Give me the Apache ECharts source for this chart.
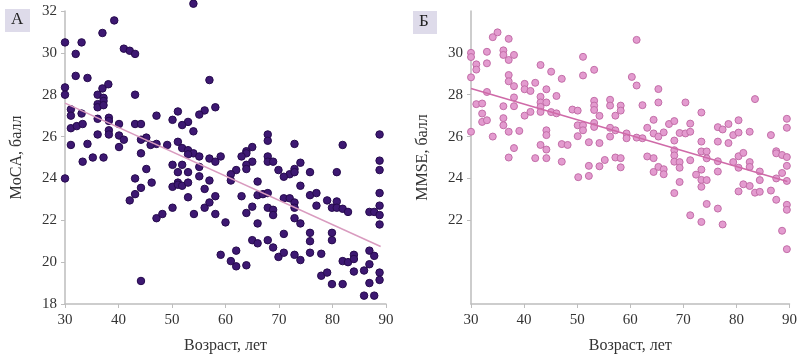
<!DOCTYPE html>
<html><head><meta charset="utf-8">
<script src="https://cdn.jsdelivr.net/npm/echarts@6/dist/echarts.min.js"></script>
<style>html,body{margin:0;padding:0;background:#fff}#c{width:800px;height:359px}</style>
</head><body><div id="c"></div>
<script>
const xTicks = [30, 40, 50, 60, 70, 80, 90];
const yTicksA = [18, 20, 22, 24, 26, 28, 30, 32];
const yTicksB = [22, 24, 26, 28, 30];
const panelLetters = ['А', 'Б'];
const yNames = ['MoCA, балл', 'MMSE, балл'];
const xName = 'Возраст, лет';

const mocaPoints = [
[54,32.35],[30,30.5],[39.2,31.55],[37,30.95],[33.1,30.5],[32,29.95],[41,30.2],[42.1,30.1],[43.1,29.95],
[32,28.9],[34.2,28.8],[30,28.35],[30,28.0],[36.1,28.0],[37,28.3],[38.1,28.5],[43.1,28.0],[57,28.7],
[37.2,27.85],[37.2,27.7],[36.1,27.55],[36.1,27.4],[37.2,27.5],[56.1,27.25],[58.1,27.4],[51.1,27.2],[55.1,27.05],[47.1,27.0],
[31.1,27.3],[31.1,27.0],[33.1,27.1],[36.1,26.85],[38.2,26.9],[38.2,26.75],[50.1,26.8],[53,26.7],[51.9,26.55],
[31.1,26.4],[32.2,26.5],[33.3,26.6],[40.1,26.6],[43.1,26.6],[44.2,26.6],[38.2,26.3],[38.2,26.1],[54,26.25],[36.1,26.1],[40.1,26.05],[45.2,25.95],[41,25.85],[44.2,25.85],
[31.1,25.6],[34.2,25.65],[40.1,25.5],[47.1,25.65],[46,25.6],[49.1,25.6],[51.1,25.75],[51.9,25.45],[53,25.35],[44.2,25.2],[54,25.2],[53,25.15],[55.1,25.05],[59.1,25.05],
[35.2,25.0],[37.2,25.0],[33.3,24.8],[57,24.95],[58.1,24.8],[50.1,24.65],[51.9,24.65],[55.1,24.55],[45.2,24.45],[51.1,24.3],[53,24.3],
[67.9,26.1],[67.9,25.8],[72.9,25.65],[81.9,25.6],[88.8,26.1],[65,25.5],[63.9,25.3],[63.9,25.2],[63,25.05],[67.9,25.05],[67.9,24.8],[68.9,24.8],[65,24.8],[63.9,24.65],[63.9,24.45],[74,24.75],[72.9,24.45],[72,24.2],[72.9,24.3],[69.9,24.4],[70.9,24.08],[75.8,24.3],[80.8,24.3],[88.8,24.85],[88.8,24.4],[62,24.4],[61,24.2],
[30,24.0],[43.1,24.0],[42.1,22.95],[43.1,23.25],[44.2,23.55],[46.2,23.8],[47.1,22.1],[48.2,22.3],[50.1,23.6],[50.1,22.6],[51.1,23.8],[51.1,23.7],[51.9,23.65],[53,23.8],[53,23.1],[54.1,22.3],[55.1,24.1],[56.1,23.5],[56.1,22.6],[57,23.9],[57,22.85],[58.1,23.15],[58.1,22.3],[60,21.9],[59.1,20.35],[61,23.9],[61,20.05],[62,20.55],[62,19.8],[63,23.15],[63.9,22.35],[63.9,19.85],[65,22.65],[65,21.05],[66,23.85],[66,23.2],[66,21.85],[66,20.9],[67,23.25],[67.9,23.3],[67.9,22.6],[67.9,21.05],[68.9,22.5],[68.9,22.25],[68.9,20.7],[69.9,20.25],[70.9,23.05],[70.9,21.35],[70.9,20.45],[72,23.05],[72.9,22.85],[72.9,22.6],[72.9,22.1],[72.9,20.35],[74,23.65],[74,21.85],[74,20.1],[75.8,23.2],[75.8,21.4],[75.8,21.0],[75.8,20.45],[77,23.3],[77,22.7],[77.9,20.4],[77.9,19.35],[79,22.95],[79,19.5],[79.9,22.6],[79.9,21.4],[79.9,21.05],[79.9,18.95],[80.8,22.9],[80.8,22.6],[81.9,22.55],[81.9,20.05],[81.9,18.95],[82.9,20.0],[82.9,22.4],[84,20.35],[84,20.15],[84,19.55],[85.9,19.6],[85.9,18.4],[86.9,22.4],[86.9,20.55],[86.9,19.9],[86.9,19.0],[87.8,22.4],[87.8,20.3],[87.8,18.4],[88.8,23.3],[88.8,22.7],[88.8,22.25],[88.8,21.8],[88.8,19.5],[88.8,19.15],[44.2,19.1]
];

const mmsePoints = [
[30,30.0],[30,29.8],[30,28.83],[30,26.23],
[31,29.45],[31,29.2],[31,27.55],
[32.1,27.58],[32.1,27.1],[32.1,26.7],
[33,30.05],[33,29.5],[33,28.13],[33,26.78],
[34.1,30.75],[34.1,26.0],[35,30.98],
[36.1,30.12],[36.1,29.9],[36.1,27.45],[36.1,26.88],[36.1,26.54],
[37.1,30.67],[37.1,29.66],[37.1,28.94],[37.1,28.64],[37.1,26.23],[37.1,25.0],
[38.1,29.9],[38.1,28.41],[38.1,27.87],[38.1,27.45],[38.1,25.45],
[39.1,26.27],
[40.1,28.52],[40.1,28.26],[40.1,27.0],
[41.2,28.18],[41.2,27.18],
[42.1,28.57],[42.1,24.97],
[43.1,29.42],[43.1,27.9],[43.1,27.63],[43.1,27.42],[43.1,27.18],[43.1,25.6],
[44.2,28.26],[44.2,27.63],[44.2,26.3],[44.2,26.07],[44.2,25.38],[44.2,24.97],
[45.1,29.1],[45.1,27.17],
[46.1,27.94],[46.1,27.11],
[47.1,28.76],[47.1,25.64],[47.1,24.8],
[48.2,25.6],[49.1,27.29],
[50.1,27.24],[50.1,26.54],[50.1,26.02],[50.2,24.06],
[51.1,29.81],[51.1,28.92],[51.1,26.54],[51.1,26.3],
[52.2,25.73],[52.2,24.6],[52.2,24.12],
[53.2,29.19],[53.2,27.71],[53.2,27.48],[53.2,27.27],[53.2,26.65],[53.2,26.46],
[54.2,26.99],[54.2,25.69],[54.2,24.58],
[55.2,24.88],
[56.2,27.76],[56.2,27.48],[56.2,26.42],[56.2,26.0],
[57.2,27.0],[57.2,26.3],[57.2,25.0],
[58.2,27.48],[58.2,27.24],[58.2,24.97],[58.2,24.53],
[59.3,26.15],[59.3,25.92],
[60.3,28.85],
[61.2,30.62],[61.2,28.44],[61.2,25.95],
[62.3,27.5],[62.3,25.92],
[63.2,26.42],[63.2,25.05],
[64.4,26.8],[64.4,26.15],[64.4,24.97],[64.4,24.31],
[65.3,28.27],[65.3,27.63],[65.3,26.0],[65.3,24.55],
[66.3,26.2],[66.3,24.44],[66.3,24.2],
[67.3,26.6],
[68.3,26.74],[68.3,25.81],[68.3,25.35],[68.3,25.1],[68.3,24.8],[68.3,23.3],
[69.3,26.17],[69.3,24.78],[69.3,24.51],[69.3,23.83],
[70.4,27.63],[70.4,26.15],
[71.3,26.62],[71.3,26.23],[71.3,24.87],[71.3,22.24],
[72.4,24.18],
[73.4,27.15],[73.4,25.76],[73.4,25.29],[73.4,24.42],[73.4,23.93],[73.4,23.6],[73.4,21.92],
[74.4,25.29],[74.4,24.96],[74.4,23.92],[74.4,22.78],
[76.5,26.45],[76.5,25.76],[76.5,24.82],[76.5,24.33],[76.5,22.56],
[77.4,26.34],[77.4,21.8],
[78.5,26.6],[78.5,25.69],
[79.4,26.07],[79.4,24.78],
[80.4,26.78],[80.4,26.19],[80.4,25.06],[80.4,24.51],[80.4,23.38],
[81.3,25.22],[81.3,23.72],
[82.5,26.23],[82.5,24.78],[82.5,24.55],[82.5,23.64],
[83.5,27.79],[83.5,23.32],
[84.4,24.33],[84.4,23.92],[84.4,23.36],
[86.5,26.07],[86.5,23.42],
[87.5,25.3],[87.5,25.2],[87.5,24.0],[87.5,22.98],
[88.6,25.12],[88.6,24.26],[88.6,21.5],
[89.5,26.85],[89.5,26.42],[89.5,25.02],[89.5,24.6],[89.5,23.88],[89.5,22.74],[89.5,22.5],[89.5,20.62]
];

const mocaTrend = [[30, 27.6], [89, 20.75]];
const mmseTrend = [[30, 28.3], [89.6, 23.85]];

const FONT = '"Liberation Serif", "DejaVu Serif", serif';
const axisGray = '#bdbdbd';

function xAxisCfg(idx) {
  return {
    type: 'value', gridIndex: idx, min: 30, max: 90, interval: 10,
    name: xName, nameLocation: 'middle', nameGap: 34,
    nameTextStyle: { fontFamily: FONT, fontSize: 16, color: '#333' },
    axisLine: { show: true, lineStyle: { color: axisGray, width: 1.5 } },
    axisTick: { show: true, length: 4, lineStyle: { color: axisGray }, customValues: xTicks },
    axisLabel: { fontFamily: FONT, fontSize: 15, color: '#333', margin: 9, customValues: xTicks },
    splitLine: { show: false }
  };
}
function yAxisCfg(idx, labels) {
  return {
    type: 'value', gridIndex: idx, min: 18, max: 32, interval: 2,
    name: yNames[idx], nameLocation: 'middle', nameGap: 40, nameRotate: 90,
    nameTextStyle: { fontFamily: FONT, fontSize: 16, color: '#333' },
    axisLine: { show: true, lineStyle: { color: axisGray, width: 1.5 } },
    axisTick: { show: true, length: 4, lineStyle: { color: axisGray }, customValues: labels },
    axisLabel: { fontFamily: FONT, fontSize: 15, color: '#333', margin: 8, customValues: labels },
    splitLine: { show: false }
  };
}

const chart = echarts.init(document.getElementById('c'), null, { renderer: 'canvas' });
chart.setOption({
  animation: false,
  backgroundColor: '#fff',
  grid: [
    { left: 65, top: 11, width: 321, height: 299 },
    { left: 471, top: 11, width: 321, height: 299 }
  ],
  xAxis: [xAxisCfg(0), xAxisCfg(1)],
  yAxis: [yAxisCfg(0, yTicksA), yAxisCfg(1, yTicksB)],
  graphic: [
    { type: 'rect', left: 5, top: 9, shape: { width: 25, height: 23 }, style: { fill: '#dedbea' } },
    { type: 'text', left: 11, top: 11, style: { text: panelLetters[0], font: '17px ' + FONT, fill: '#222' } },
    { type: 'rect', left: 413, top: 11, shape: { width: 24, height: 23 }, style: { fill: '#dedbea' } },
    { type: 'text', left: 419, top: 13, style: { text: panelLetters[1], font: '17px ' + FONT, fill: '#222' } }
  ],
  series: [
    { type: 'scatter', xAxisIndex: 0, yAxisIndex: 0, data: mocaPoints, symbolSize: 7.5, clip: false,
      itemStyle: { color: '#3d1872', borderColor: '#260a4d', borderWidth: 1, opacity: 1 } },
    { type: 'line', xAxisIndex: 0, yAxisIndex: 0, data: mocaTrend, symbol: 'none',
      lineStyle: { color: '#d99bbf', width: 1.5 } },
    { type: 'scatter', xAxisIndex: 1, yAxisIndex: 1, data: mmsePoints, symbolSize: 7, clip: false,
      itemStyle: { color: '#e39bcf', borderColor: '#c36ea8', borderWidth: 1, opacity: 1 } },
    { type: 'line', xAxisIndex: 1, yAxisIndex: 1, data: mmseTrend, symbol: 'none',
      lineStyle: { color: '#cf6aa8', width: 1.5 } }
  ]
});
</script></body></html>
